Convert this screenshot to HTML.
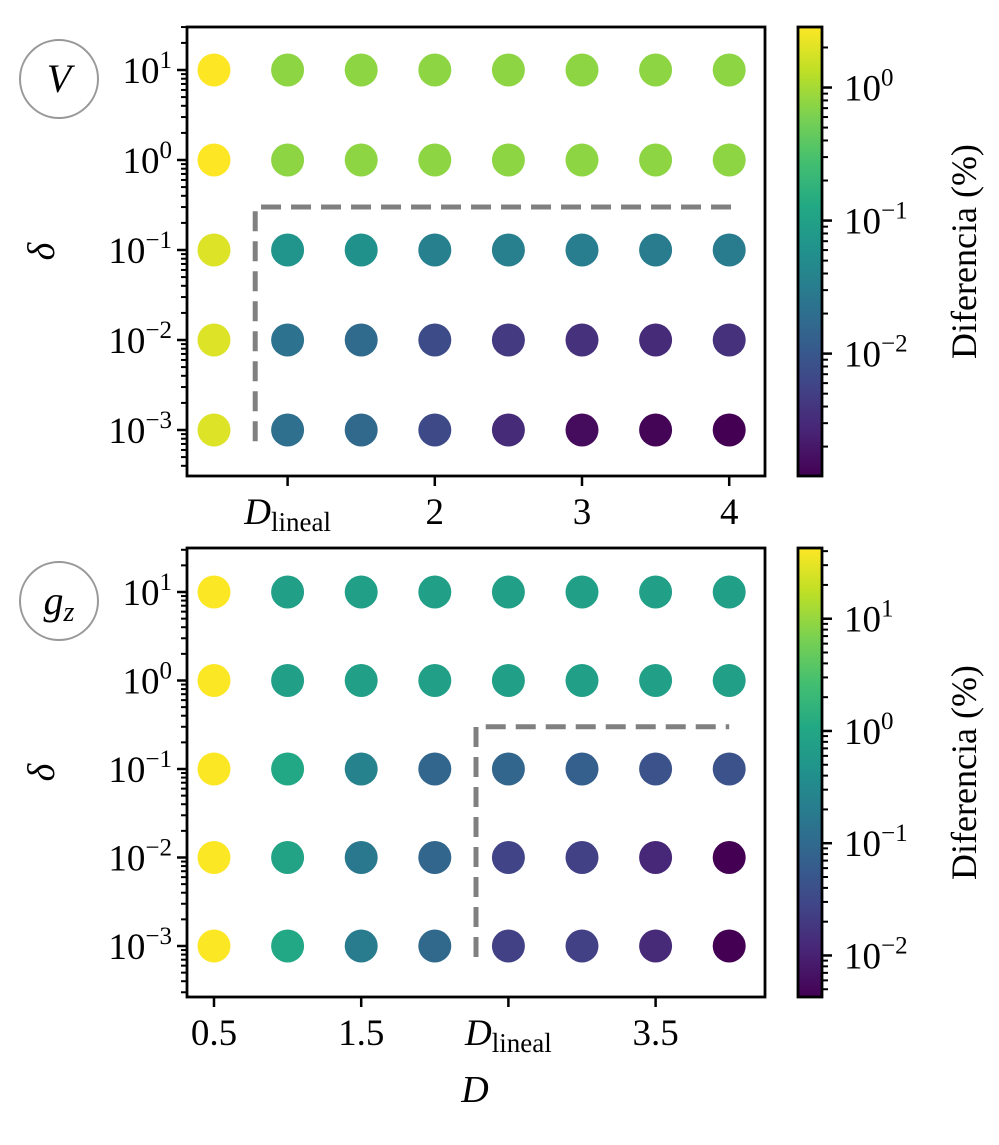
<!DOCTYPE html>
<html><head><meta charset="utf-8"><style>
html,body{margin:0;padding:0;background:#fff;}
svg text{font-family:"Liberation Serif",serif;fill:#000;}
</style></head><body>
<svg id="chart" width="999" height="1140" xmlns="http://www.w3.org/2000/svg">
<defs>
<linearGradient id="viridis" x1="0" y1="1" x2="0" y2="0">
<stop offset="0" stop-color="#440154"/><stop offset="0.1" stop-color="#482475"/><stop offset="0.2" stop-color="#414487"/><stop offset="0.3" stop-color="#355f8d"/><stop offset="0.4" stop-color="#2a788e"/><stop offset="0.5" stop-color="#21918c"/><stop offset="0.6" stop-color="#22a884"/><stop offset="0.7" stop-color="#44bf70"/><stop offset="0.8" stop-color="#7ad151"/><stop offset="0.9" stop-color="#bddf26"/><stop offset="1" stop-color="#fde725"/>
</linearGradient>
</defs>
</svg>
<script>
const dValues = [0.5, 1, 1.5, 2, 2.5, 3, 3.5, 4];
const deltaValues = [10, 1, 0.1, 0.01, 0.001];
const yTickExps = [1, 0, -1, -2, -3];
const topXTicks = [1, 2, 3, 4];
const topXTickLabels = ["D_lineal", "2", "3", "4"];
const bottomXTicks = [0.5, 1.5, 2.5, 3.5];
const bottomXTickLabels = ["0.5", "1.5", "D_lineal", "3.5"];
const topDiff = [
  [2.85, 0.76, 0.76, 0.76, 0.76, 0.76, 0.76, 0.76],
  [2.85, 0.76, 0.76, 0.76, 0.76, 0.76, 0.76, 0.76],
  [1.93, 0.065, 0.059, 0.035, 0.033, 0.032, 0.03, 0.03],
  [1.93, 0.022, 0.018, 0.0072, 0.0045, 0.0036, 0.0031, 0.0036],
  [1.93, 0.021, 0.017, 0.0068, 0.0031, 0.0015, 0.0013, 0.0012]
];
const bottomDiff = [
  [42, 0.74, 0.74, 0.74, 0.74, 0.74, 0.74, 0.74],
  [42, 0.74, 0.74, 0.74, 0.74, 0.74, 0.74, 0.74],
  [42, 1.07, 0.245, 0.089, 0.089, 0.068, 0.043, 0.043],
  [42, 0.89, 0.17, 0.089, 0.027, 0.025, 0.0118, 0.0043],
  [42, 1.07, 0.2, 0.097, 0.025, 0.025, 0.013, 0.0043]
];
const topCbarTicks = [0, -1, -2];
const bottomCbarTicks = [1, 0, -1, -2];
const topBoundaryD = 0.78, topBoundaryDelta = 0.3, topBoundaryEnd = 4.05;
const bottomBoundaryD = 2.28, bottomBoundaryDelta = 0.3, bottomBoundaryEnd = 4.0;

const VIR = ["#440154","#482475","#414487","#355f8d","#2a788e","#21918c","#22a884","#44bf70","#7ad151","#bddf26","#fde725"];
function hex(h){return [1,3,5].map(i=>parseInt(h.substr(i,2),16));}
function viridis(t){t=Math.max(0,Math.min(1,t));const p=t*10,i=Math.min(9,Math.floor(p)),f=p-i;const a=hex(VIR[i]),b=hex(VIR[i+1]);return "rgb("+a.map((v,k)=>Math.round(v+(b[k]-v)*f)).join(",")+")";}

const svg=document.getElementById('chart');
const NS="http://www.w3.org/2000/svg";
function el(tag,attrs,parent){const e=document.createElementNS(NS,tag);for(const k in attrs)e.setAttribute(k,attrs[k]);(parent||svg).appendChild(e);return e;}

function powLabel(g,x,y,exp,anchorEnd){
  const t=el('text',{x:x,y:y,'font-size':37,'text-anchor':anchorEnd?'end':'start'},g);
  t.appendChild(document.createTextNode('10'));
  const s=el('tspan',{'font-size':25,dy:-15},t);
  s.textContent=exp<0?('\u2212'+(-exp)):String(exp);
  return t;
}
function dLineal(g,x,y){
  const t=el('text',{x:x,y:y,'font-size':37,'text-anchor':'middle'},g);
  const a=el('tspan',{'font-style':'italic'},t);a.textContent='D';
  const b=el('tspan',{'font-size':27,dy:7},t);b.textContent='lineal';
  return t;
}

function panel(cfg){
  const g=el('g',{});
  
  
  const L=187,R=765,T=cfg.top,B=cfg.bottom;
  const xs=d=>214+(d-0.5)*147.2;
  const ys=v=>cfg.y10+(1-Math.log10(v))*cfg.dec;
  const pts=el('g',{},g);
  
  
  const lo=cfg.cLo,hi=cfg.cHi;
  cfg.data.forEach((row,ri)=>row.forEach((v,ci)=>{
    const c=el('circle',{cx:xs(dValues[ci]),cy:ys(deltaValues[ri]),r:16.5,fill:viridis((Math.log10(v)-lo)/(hi-lo))},pts);
    
    
  }));
  const bx=xs(cfg.bD),by=ys(cfg.bDelta);
  const bl=el('path',{d:`M${bx},${ys(0.00075)} L${bx},${by} L${xs(cfg.bEnd)},${by}`,fill:'none',stroke:'#808080','stroke-width':5,'stroke-dasharray':'20,10'},g);
  
  
  const fr=el('rect',{x:L,y:T,width:R-L,height:B-T,fill:'none',stroke:'#000','stroke-width':2.8},g);
  
  
  for(let e=-5;e<=2;e++){for(let k=1;k<=9;k++){const v=k*Math.pow(10,e);const y=ys(v);if(y<T-0.5||y>B+0.5)continue;
    el('line',{x1:L,x2:L-(k===1?10:6),y1:y,y2:y,stroke:'#000','stroke-width':k===1?2.5:2},g);}}
  yTickExps.forEach(e=>{const t=powLabel(g,172,ys(Math.pow(10,e))+13,e,true);
    });
  cfg.xt.forEach((d,i)=>{const x=xs(d);el('line',{x1:x,x2:x,y1:B,y2:B+10,stroke:'#000','stroke-width':2.5},g);
    let t;const lab=cfg.xl[i];
    if(lab==='D_lineal')t=dLineal(g,x,B+48);else{t=el('text',{x:x,y:B+48,'font-size':37,'text-anchor':'middle'},g);t.textContent=lab;}
    });
  const yl=el('text',{x:44,y:(T+B)/2+10,'font-size':38,'font-style':'italic','text-anchor':'middle',transform:`rotate(-90 44 ${(T+B)/2})`},g);
  yl.textContent='\u03b4';
  
  const an=el('g',{},g);
  
  el('circle',{cx:59,cy:cfg.y10+9,r:39,fill:'#fff',stroke:'#999','stroke-width':2},an);
  const at=el('text',{x:59,y:cfg.y10+22,'font-size':40,'font-style':'italic','text-anchor':'middle'},an);
  if(cfg.label==='V')at.textContent='V';else{at.textContent='g';const s=el('tspan',{'font-size':28,dy:7},at);s.textContent='z';}
  const cb=el('g',{},g);
  
  const CL=798,CR=822;
  el('rect',{x:CL,y:T,width:CR-CL,height:B-T,fill:'url(#viridis)',stroke:'#000','stroke-width':2.8},cb);
  const cy=v=>B-(Math.log10(v)-lo)/(hi-lo)*(B-T);
  for(let e=-4;e<=3;e++){for(let k=1;k<=9;k++){const v=k*Math.pow(10,e);const y=cy(v);if(y<T+1||y>B-1)continue;
    el('line',{x1:CR,x2:CR+(k===1?10:6),y1:y,y2:y,stroke:'#000','stroke-width':k===1?2.5:2},cb);}}
  cfg.cbt.forEach(e=>{const t=powLabel(cb,844,cy(Math.pow(10,e))+13,e,false);
    });
  const cl=el('text',{x:976,y:(T+B)/2,'font-size':36,'text-anchor':'middle',transform:`rotate(-90 976 ${(T+B)/2})`},cb);
  cl.textContent='Diferencia (%)';
  
}

panel({name:'panel-v',label:'V',top:27,bottom:476,y10:70,dec:90,data:topDiff,cLo:-2.92,cHi:0.455,cbt:topCbarTicks,xt:topXTicks,xl:topXTickLabels,bD:topBoundaryD,bDelta:topBoundaryDelta,bEnd:topBoundaryEnd});
panel({name:'panel-gz',label:'gz',top:548,bottom:997,y10:592,dec:88.5,data:bottomDiff,cLo:-2.37,cHi:1.63,cbt:bottomCbarTicks,xt:bottomXTicks,xl:bottomXTickLabels,bD:bottomBoundaryD,bDelta:bottomBoundaryDelta,bEnd:bottomBoundaryEnd});

const xt=el('text',{x:475,y:1102,'font-size':38,'font-style':'italic','text-anchor':'middle'});
xt.textContent='D';


</script>
</body></html>
